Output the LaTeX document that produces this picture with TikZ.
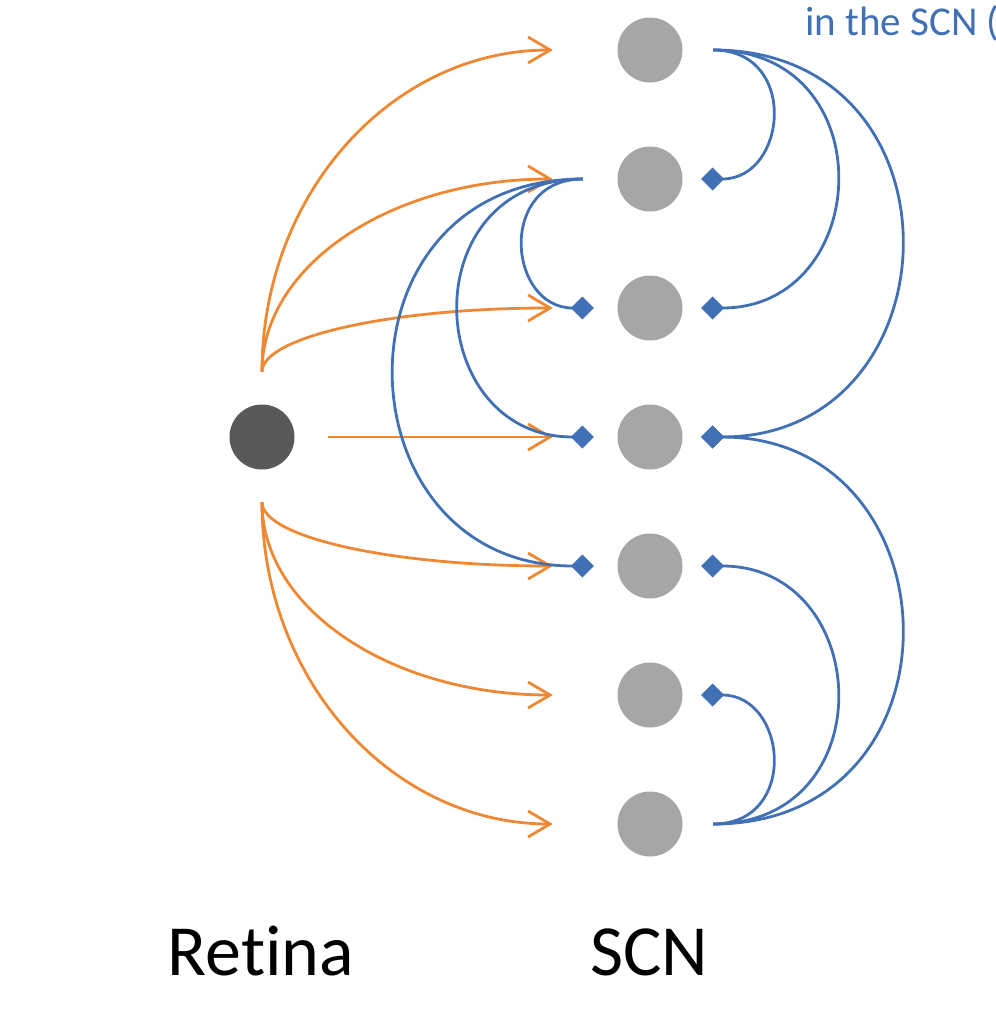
\documentclass[tikz,border=0pt]{standalone}
\usepackage{fontspec}
\setmainfont{Carlito}[Ligatures=NoCommon]
\usepackage{xcolor}
\definecolor{cLight}{HTML}{EF8833}
\definecolor{cLink}{HTML}{4170B4}
\definecolor{cCell}{HTML}{A6A6A6}
\definecolor{cRet}{HTML}{595959}
\usepackage{tikz}
\usetikzlibrary{arrows.meta}
\tikzset{
  node-scn/.style={circle,fill=cCell,minimum size=65pt,inner sep=0pt},
  node-retina/.style={circle,fill=cRet,minimum size=65pt,inner sep=0pt},
  node-label/.style={font=\fontsize{72}{80}\selectfont,anchor=base},
  arrow-light/.style={-{Straight Barb[length=22pt,width=26pt]},line width=2.8pt,draw=cLight},
  arrow-link/.style={-{Diamond[length=23pt,width=23pt]},line width=2.8pt,draw=cLink},
}

\begin{document}
\begin{tikzpicture}[x=1pt,y=1pt]
  \useasboundingbox (0,0) rectangle (996,-1018);
  \node[node-retina] (ret) at (262,-437) {};
  \foreach \i/\y in {0/50,1/179,2/308,3/437,4/566,5/695,6/824}
    \node[node-scn] (scn\i) at (650,-\y) {};

  % light input from the retina
  \foreach \i/\d in {0/178,1/107,2/35}
    \draw[arrow-light] ([yshift=32.5]ret.north) to[out=90,in=180,out distance=\d,in distance=161] ([xshift=-64.5]scn\i.west);
  \foreach \i/\d in {4/35,5/107,6/178}
    \draw[arrow-light] ([yshift=-32.5]ret.south) to[out=-90,in=180,out distance=\d,in distance=161] ([xshift=-64.5]scn\i.west);
  \draw[arrow-light] ([xshift=33.5]ret.east) -- ([xshift=-64.5]scn3.west);

  % coupling in the SCN
  \foreach \i/\d in {1/86,2/172,3/258}
    \draw[arrow-link] ([xshift=30.5]scn0.east) to[out=0,in=0,distance=\d] ([xshift=18.5]scn\i.east);
  \foreach \i/\d in {5/86,4/172,3/258}
    \draw[arrow-link] ([xshift=30.5]scn6.east) to[out=0,in=0,distance=\d] ([xshift=18.5]scn\i.east);
  \foreach \i/\d in {2/86,3/172,4/258}
    \draw[arrow-link] ([xshift=-34.5]scn1.west) to[out=180,in=180,distance=\d] ([xshift=-23.5]scn\i.west);

  \node[node-label] (lbl-retina) at (261,-975) {Retina};
  \node[node-label] (lbl-scn) at (649,-975) {SCN};
  \node[font=\fontsize{41}{48}\selectfont,text=cLink,anchor=base west,inner sep=0pt] (lbl-top) at (805,-35) {in the SCN (};
\end{tikzpicture}
\end{document}
